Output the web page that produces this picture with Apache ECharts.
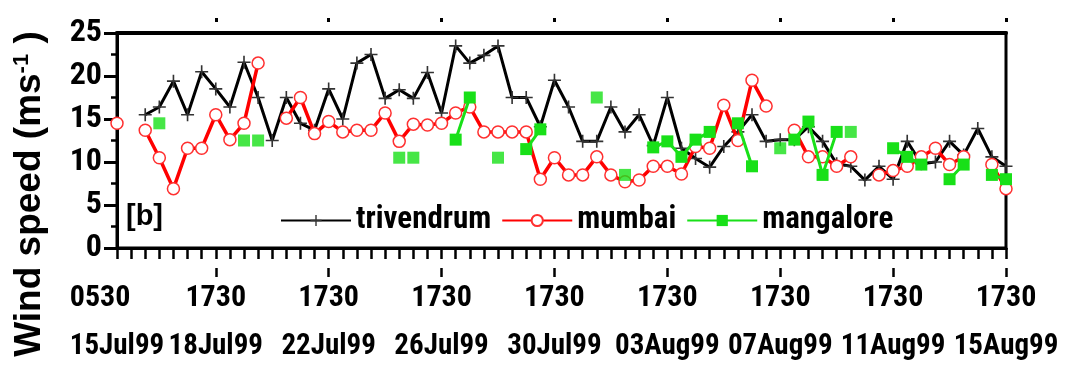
<!DOCTYPE html>
<html>
<head>
<meta charset="utf-8">
<title>Wind speed, 15 Jul - 15 Aug 1999</title>
<script src="https://cdn.jsdelivr.net/npm/echarts@6/dist/echarts.min.js"></script>
<style>
  html, body { margin: 0; padding: 0; background: #fff; }
  #chart { width: 1072px; height: 365px; }
</style>
</head>
<body>
<div id="chart"></div>
<script>
// Observations every 12 hours (0530 and 1730), index 0 = 15Jul99 0530, index 63 = 15Aug99 1730.
const tickIndex = [0, 7, 15, 23, 31, 39, 47, 55, 63];
const tickTimes = ['0530', '1730', '1730', '1730', '1730', '1730', '1730', '1730', '1730'];
const tickDates = ['15Jul99', '18Jul99', '22Jul99', '26Jul99', '30Jul99', '03Aug99', '07Aug99', '11Aug99', '15Aug99'];

// Wind speed (m/s); null = no observation
const trivendrum = [
  null, null, 15.5, 16.4, 19.4, 15.5, 20.5, 18.5, 16.4, 21.6,
  17.5, 12.5, 17.5, 14.5, 13.7, 18.5, 15.0, 21.5, 22.5, 17.4,
  18.4, 17.4, 20.4, 15.7, 23.5, 21.5, 22.4, 23.5, 17.5, 17.5,
  14.1, 19.5, 16.4, 12.4, 12.4, 16.4, 13.5, 15.5, 11.9, 17.5,
  11.6, 10.4, 9.4, 11.8, 13.5, 15.5, 12.4, 12.6, 12.6, 14.1,
  12.4, 9.8, 9.5, 7.9, 9.5, 8.0, 12.4, 9.8, 10.0, 12.4,
  10.8, 13.9, 10.6, 9.5
];
const mumbai = [
  14.5, null, 13.7, 10.5, 6.9, 11.6, 11.6, 15.5, 12.6, 14.5,
  21.5, null, 15.1, 17.5, 13.3, 14.7, 13.5, 13.7, 13.7, 15.7,
  12.4, 14.4, 14.3, 14.5, 15.7, 16.4, 13.5, 13.5, 13.5, 13.5,
  8.0, 10.5, 8.5, 8.5, 10.6, 8.5, 7.7, 7.9, 9.5, 9.5,
  8.6, 11.8, 11.6, 16.6, 12.5, 19.5, 16.5, null, 13.7, 10.6,
  10.6, 9.5, 10.6, null, 8.5, 9.0, 9.5, 10.6, 11.6, 9.7,
  10.6, null, 9.7, 6.9
];
// Mangalore: consecutive readings joined by a line
const mangaloreJoined = [
  null, null, null, null, null, null, null, null, null, null,
  null, null, null, null, null, null, null, null, null, null,
  null, null, null, null, 12.6, 17.5, null, null, null, 11.5,
  13.8, null, null, null, null, null, null, null, 11.7, 12.4,
  10.6, 12.6, 13.5, null, 14.5, 9.5, null, null, 12.6, 14.7,
  8.5, 13.5, null, null, null, 11.6, 10.6, 9.7, null, 8.0,
  9.7, null, 8.5, 8.0
];
// Mangalore: stand-alone readings, drawn as markers only
const mangaloreSingleIdx = [3, 9, 10, 20, 21, 27, 34, 36, 47, 52];
const mangaloreSingleVal = [14.5, 12.5, 12.5, 10.5, 10.5, 10.5, 17.5, 8.5, 11.6, 13.5];

// Narrow bold face for ticks and legend (Roboto, condensed width)
const NARROW = 'Roboto, sans-serif';
const NARROW_WEIGHT = 'bold condensed';
const WIDE = "'Liberation Sans', Arial, sans-serif";
const PLUS = 'path://M7,0H9V7H16V9H9V16H7V9H0V7H7Z';
const GREEN = '#18e018';
const RED = '#ff0000';
const HIDDEN_LINE = { show: true, onZero: false, lineStyle: { color: 'rgba(0,0,0,0)', width: 0 } };

const toPairs = arr => arr.map((v, i) => [i, v]);

const chart = echarts.init(document.getElementById('chart'), null, { renderer: 'canvas' });

const baseX = { type: 'value', min: 0, max: 63, splitLine: { show: false } };
const narrowText = size => ({ fontFamily: NARROW, fontWeight: NARROW_WEIGHT, fontSize: size, color: '#000' });

chart.setOption({
  animation: false,
  backgroundColor: '#fff',
  grid: [
    // plotting area
    { left: 117, right: 66, top: 33, bottom: 117, show: true, borderColor: '#000', borderWidth: 3 },
    // thin strip under the plot carrying the lower row of major marks
    { left: 117, right: 66, top: 268, height: 10 }
  ],
  legend: {
    data: ['trivendrum', 'mumbai', 'mangalore'],
    left: 280, top: 205, padding: 0,
    itemWidth: 70, itemHeight: 14, itemGap: 10,
    selectedMode: false,
    textStyle: narrowText(31)
  },
  xAxis: [
    // main time axis: a tick every 12 hours
    Object.assign({}, baseX, {
      gridIndex: 0, position: 'bottom', interval: 1,
      axisLine: { onZero: false, lineStyle: { color: '#000', width: 3 } },
      axisTick: { length: 11, lineStyle: { color: '#000', width: 2.5 } },
      axisLabel: { show: false }
    }),
    // time / date labels
    Object.assign({}, baseX, {
      gridIndex: 0, position: 'bottom', offset: 20,
      axisLine: HIDDEN_LINE,
      axisTick: { show: false },
      axisLabel: {
        customValues: tickIndex,
        showMinLabel: true, showMaxLabel: true,
        margin: 13,
        formatter: function (value) {
          const k = tickIndex.indexOf(value);
          if (k < 0) return '';
          const t = k === 0 ? '{t0|' + tickTimes[k] + '}' : '{t|' + tickTimes[k] + '}';
          return t + '\n{d|' + tickDates[k] + '}';
        },
        rich: {
          t: Object.assign(narrowText(30), { lineHeight: 34 }),
          t0: Object.assign(narrowText(30), { lineHeight: 34, align: 'left' }),
          d: Object.assign(narrowText(29), { lineHeight: 64 })
        }
      }
    }),
    // upper row of major marks
    Object.assign({}, baseX, {
      gridIndex: 0, position: 'top', offset: 11,
      axisLine: HIDDEN_LINE,
      axisTick: { show: true, customValues: tickIndex.slice(1), length: 4, lineStyle: { color: '#000', width: 3 } },
      axisLabel: { show: false }
    }),
    // heavy top frame
    Object.assign({}, baseX, {
      gridIndex: 0, position: 'top', offset: 0,
      axisLine: { show: true, onZero: false, lineStyle: { color: '#000', width: 4 } },
      axisTick: { show: false },
      axisLabel: { show: false }
    }),
    // lower row of major marks (ticks hang down from the strip's top edge)
    Object.assign({}, baseX, {
      gridIndex: 1, position: 'top',
      axisLine: HIDDEN_LINE,
      axisTick: { show: true, inside: true, customValues: tickIndex.slice(1), length: 9, lineStyle: { color: '#000', width: 2.5 } },
      axisLabel: { show: false }
    })
  ],
  yAxis: [
    {
      gridIndex: 0, type: 'value', min: 0, max: 25, interval: 5,
      axisLine: { show: true, lineStyle: { color: '#000', width: 3 } },
      axisTick: { show: true, length: 13, lineStyle: { color: '#000', width: 3 } },
      minorTick: { show: true, splitNumber: 2, length: 6, lineStyle: { color: '#000', width: 2.5 } },
      splitLine: { show: false },
      axisLabel: Object.assign(narrowText(32), { margin: 15 })
    },
    {
      gridIndex: 1, type: 'value', min: 0, max: 1, show: false
    }
  ],
  series: [
    {
      name: 'trivendrum', type: 'line', xAxisIndex: 0, yAxisIndex: 0,
      data: toPairs(trivendrum),
      symbol: PLUS, symbolSize: 13, showAllSymbol: true,
      itemStyle: { color: '#333' },
      lineStyle: { color: '#000', width: 3 },
      z: 2
    },
    {
      name: 'mumbai', type: 'line', xAxisIndex: 0, yAxisIndex: 0,
      data: toPairs(mumbai),
      symbol: 'circle', symbolSize: 12, showAllSymbol: true,
      itemStyle: { color: '#fff', borderColor: '#ff3030', borderWidth: 1.5 },
      lineStyle: { color: RED, width: 3.5 },
      z: 3
    },
    {
      name: 'mangalore', type: 'line', xAxisIndex: 0, yAxisIndex: 0,
      data: toPairs(mangaloreJoined),
      symbol: 'rect', symbolSize: 12, showAllSymbol: true,
      itemStyle: { color: GREEN },
      lineStyle: { color: GREEN, width: 3 },
      z: 4
    },
    {
      name: 'mangalore', type: 'scatter', xAxisIndex: 0, yAxisIndex: 0,
      data: mangaloreSingleIdx.map((x, k) => [x, mangaloreSingleVal[k]]),
      symbol: 'rect', symbolSize: 12,
      itemStyle: { color: GREEN },
      z: 4
    }
  ],
  graphic: [
    {
      type: 'text', left: 126, top: 202,
      style: { text: '[b]', font: "bold 29px 'Liberation Sans', Arial, sans-serif", fill: '#000' }
    },
    {
      type: 'text', x: 30, y: 194, rotation: Math.PI / 2,
      style: {
        text: 'Wind speed (ms{sup|-1}{p| )}',
        align: 'center', verticalAlign: 'middle',
        fontFamily: WIDE, fontWeight: 'bold', fontSize: 37, fill: '#000',
        rich: {
          sup: { fontFamily: WIDE, fontWeight: 'bold', fontSize: 22, verticalAlign: 'top', padding: [0, 0, 16, 0], fill: '#000' },
          p: { fontFamily: WIDE, fontWeight: 'bold', fontSize: 37, fill: '#000' }
        }
      }
    }
  ]
});
</script>
</body>
</html>
